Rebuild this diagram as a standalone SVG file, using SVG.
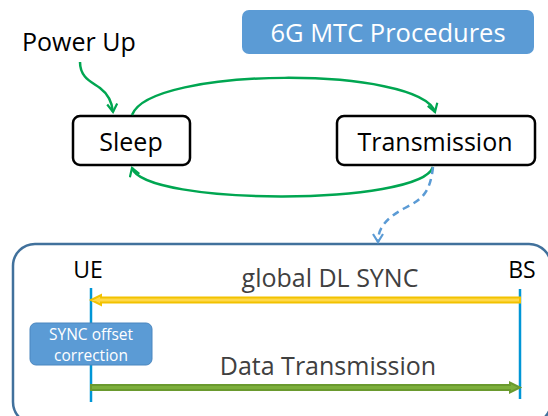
<svg xmlns="http://www.w3.org/2000/svg" width="548" height="416" viewBox="0 0 548 416">
<defs>
<style>
text{font-family:"Open Sans","Noto Sans","DejaVu Sans",sans-serif}
.state rect{fill:#fff;stroke:#000;stroke-width:2.5}
.state text{font-size:25px;fill:#000;text-anchor:middle}
.flow{fill:none;stroke:#00A651;stroke-width:2.5}
.lbl{font-size:25px;fill:#404040;text-anchor:middle}
.life{stroke:#0096D6;stroke-width:2.5}
</style>
<marker id="vg" viewBox="0 0 12 12" refX="10" refY="6" markerWidth="12" markerHeight="12" markerUnits="userSpaceOnUse" orient="auto">
<path d="M2,1 L10,6 L2,11" fill="none" stroke="#00A651" stroke-width="2.2"/>
</marker>
<marker id="vb" viewBox="0 0 12 12" refX="10" refY="6" markerWidth="12" markerHeight="12" markerUnits="userSpaceOnUse" orient="auto">
<path d="M2,1 L10,6 L2,11" fill="none" stroke="#5B9BD5" stroke-width="2.2"/>
</marker>
</defs>
<rect width="548" height="416" fill="#fff"/>

<g id="title">
<rect x="242" y="10" width="292" height="44" rx="7" fill="#5B9BD5"/>
<text x="388" y="42" font-size="25.5" fill="#fff" text-anchor="middle">6G MTC Procedures</text>
</g>

<g id="powerup">
<text x="22" y="51" font-size="25" fill="#000">Power Up</text>
</g>

<g id="sleep" class="state">
<rect x="73" y="116" width="117" height="49" rx="7"/>
<text x="131" y="151">Sleep</text>
</g>

<g id="transmission" class="state">
<rect x="337" y="116" width="198" height="49" rx="7"/>
<text x="435" y="151">Transmission</text>
</g>

<g id="container">
<rect x="13" y="244" width="538" height="180" rx="22" fill="none" stroke="#41719C" stroke-width="2.5"/>
</g>

<g id="ue">
<text x="88" y="278" font-size="23" fill="#000" text-anchor="middle">UE</text>
<line class="life" x1="91" y1="288" x2="91" y2="402"/>
</g>

<g id="bs">
<text x="522" y="278" font-size="23" fill="#000" text-anchor="middle">BS</text>
<line class="life" x1="520" y1="289" x2="520" y2="399"/>
</g>

<g id="sync">
<rect x="30" y="323" width="122" height="42" rx="6" fill="#5B9BD5" stroke="#4A86BF" stroke-width="1"/>
<text x="91" y="340" font-size="15.5" fill="#fff" text-anchor="middle">SYNC offset</text>
<text x="91" y="361" font-size="15.5" fill="#fff" text-anchor="middle">correction</text>
</g>

<g id="connectors">
<path class="flow" d="M80,62 C80,78 92,82 100,88 C108,94 112,102 113,112" marker-end="url(#vg)"/>
<path class="flow" d="M132,115 C150,66 420,66 435,112" marker-end="url(#vg)"/>
<path class="flow" d="M433,167 C420,206 145,206 132,168" marker-end="url(#vg)"/>
<path d="M433,167 C430,195 420,200 405,208 C386,218 378,228 378,242" fill="none" stroke="#5B9BD5" stroke-width="2.5" stroke-dasharray="7,5" marker-end="url(#vb)"/>
<polygon points="520,297.5 101,297.5 101,295 91,300 101,305 101,302.5 520,302.5" fill="#FFD84A" stroke="#F2C200" stroke-width="2"/>
<text class="lbl" x="330" y="287" font-size="26">global DL SYNC</text>
<polygon points="91,385 510,385 510,382.5 520,387.5 510,392.5 510,390 91,390" fill="#7DAF3C" stroke="#6A9A2E" stroke-width="2"/>
<text class="lbl" x="328" y="375">Data Transmission</text>
</g>
</svg>
